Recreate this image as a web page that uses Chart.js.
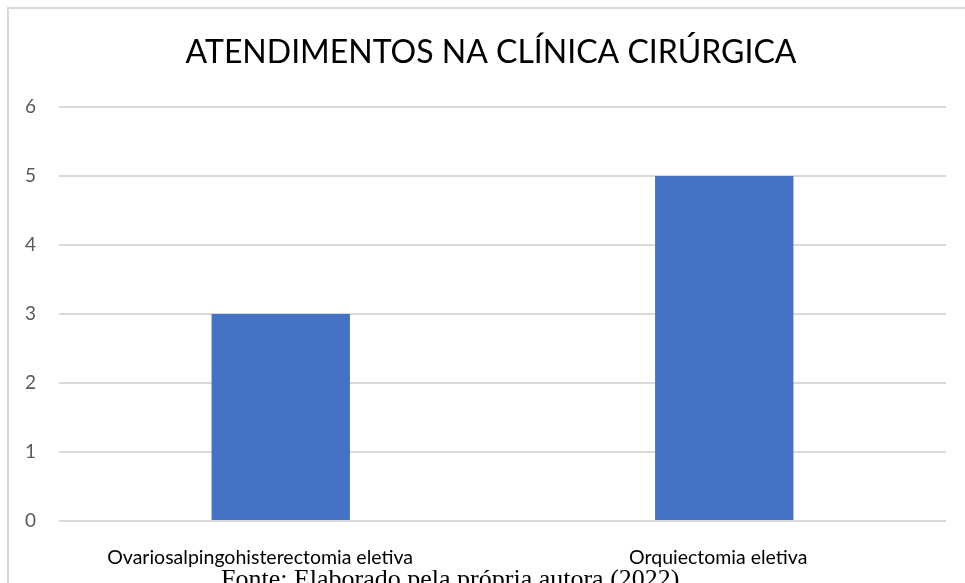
<!DOCTYPE html>
<html>
<head>
<meta charset="utf-8">
<script src="https://cdn.jsdelivr.net/npm/chart.js@4.4.0/dist/chart.umd.min.js"></script>
<style>
    body { margin: 0; background: #fff; }
    #wrap { position: relative; width: 965px; height: 583px; overflow: hidden; }
    #frame { position: absolute; left: 7px; top: 7px; width: 980px; height: 620px; border: 2px solid #d9d9d9; }
    #chart { position: absolute; left: 0; top: 0; }
    #fonte { position: absolute; left: 221px; top: 566px; font-family: "Liberation Serif", "Times New Roman", serif; font-size: 26px; line-height: 26px; white-space: nowrap; color: #000; }
</style>
</head>
<body>
<div id="wrap">
    <div id="frame"></div>
    <canvas id="chart" width="965" height="583"></canvas>
    <div id="fonte">Fonte: Elaborado pela própria autora (2022)</div>
</div>
<script>
const chartTitle = "ATENDIMENTOS NA CLÍNICA CIRÚRGICA";
const categories = ["Ovariosalpingohisterectomia eletiva", "Orquiectomia eletiva"];
const counts = [3, 5];
const yMax = 6;
// the first label sits a bit left of its bar in the original (trailing blanks)
const labelTail = ["\u2003\u2003", ""];

// title centred on the whole frame, not only on the plot
const titlePlugin = {
    id: "frameTitle",
    afterDraw(chart) {
        let c = chart.ctx;
        c.save();
        c.font = "32px Lato";
        c.fillStyle = "#000";
        c.textAlign = "center";
        c.textBaseline = "alphabetic";
        c.fillText(chartTitle, 491, 63);
        c.restore();
    }
};

document.addEventListener("DOMContentLoaded", function () {
    let ctx = document.getElementById("chart").getContext("2d");

    new Chart(ctx, {
        type: "bar",
        data: {
            labels: categories,
            datasets: [{
                label: "Atendimentos",
                data: counts,
                backgroundColor: "#4472C4",
                borderWidth: 0,
                categoryPercentage: 1,
                barPercentage: 0.312
            }]
        },
        options: {
            responsive: false,
            animation: false,
            layout: { padding: { left: 0, right: 19, top: 107, bottom: 0 } },
            plugins: {
                legend: { display: false },
                tooltip: { enabled: false },
                title: { display: false }
            },
            scales: {
                x: {
                    grid: { display: false },
                    border: { display: false },
                    ticks: {
                        color: "#000",
                        font: { family: "Lato", size: 19.5 },
                        padding: 17,
                        labelOffset: -6,
                        maxRotation: 0,
                        callback: function (value, i) { return categories[i] + labelTail[i]; }
                    },
                    afterFit: function (scale) { scale.height = 62; }
                },
                y: {
                    min: 0,
                    max: yMax,
                    grid: { color: "#d9d9d9", lineWidth: 2, drawTicks: false },
                    border: { display: false },
                    ticks: {
                        stepSize: 1,
                        color: "#595959",
                        font: { family: "Lato", size: 19 },
                        padding: 23
                    },
                    afterFit: function (scale) { scale.width = 59; }
                }
            }
        },
        plugins: [titlePlugin]
    });
});
</script>
</body>
</html>
